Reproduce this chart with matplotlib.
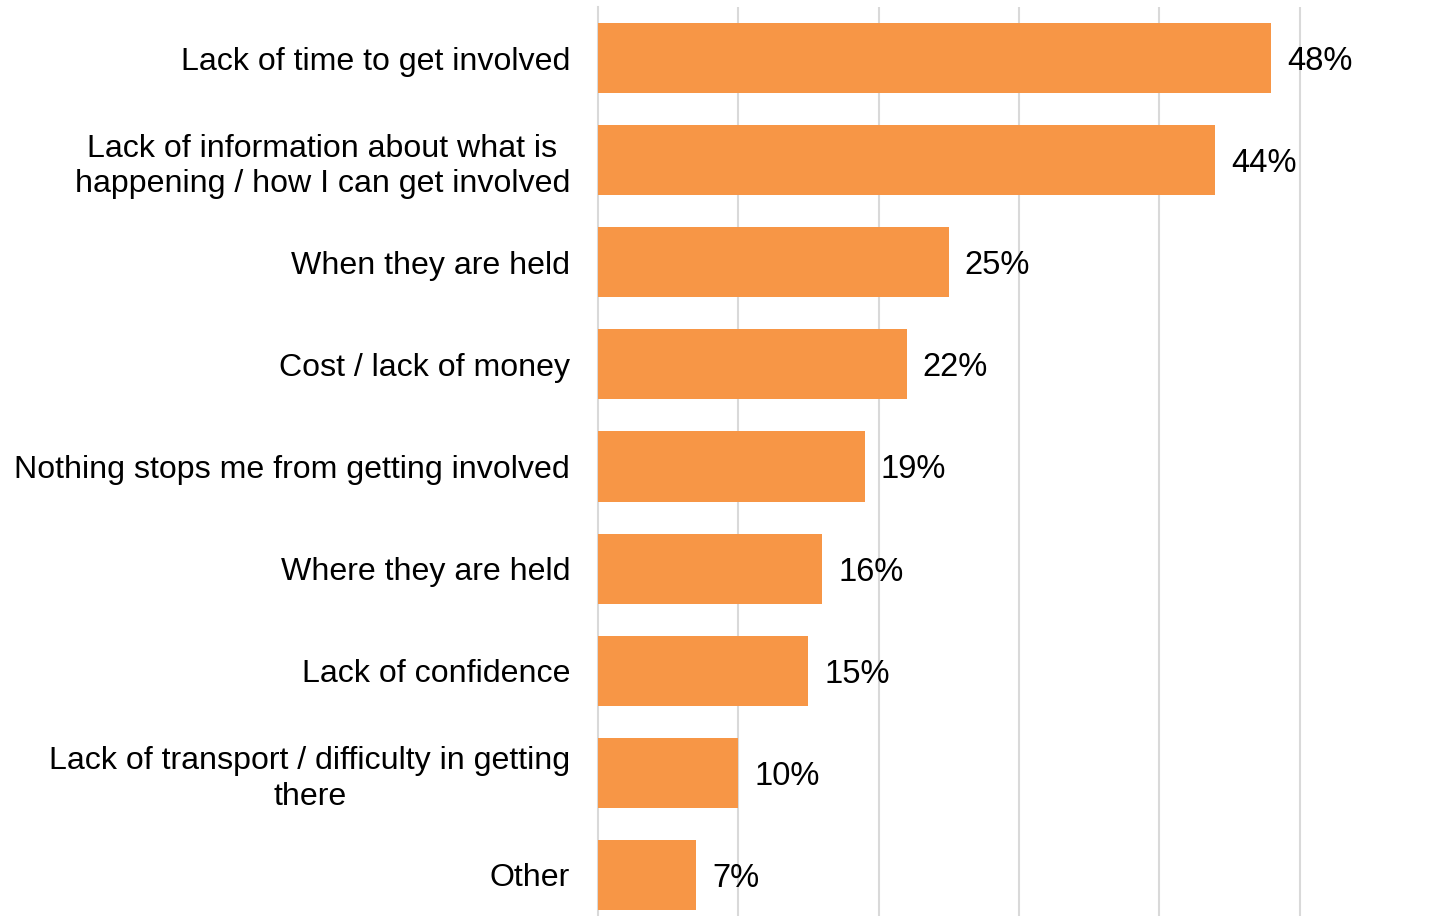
import matplotlib
matplotlib.use("Agg")
import matplotlib.pyplot as plt

categories = [
    "Lack of time to get involved",
    "Lack of information about what is\nhappening / how I can get involved",
    "When they are held",
    "Cost / lack of money",
    "Nothing stops me from getting involved",
    "Where they are held",
    "Lack of confidence",
    "Lack of transport / difficulty in getting\nthere",
    "Other",
]
values = [48, 44, 25, 22, 19, 16, 15, 10, 7]
value_labels = ["48%", "44%", "25%", "22%", "19%", "16%", "15%", "10%", "7%"]

W, H = 1437, 916
fig = plt.figure(figsize=(W / 100, H / 100), dpi=100)
plt.rcParams["font.family"] = ["Liberation Sans", "DejaVu Sans"]

left_px, right_px = 598, 1437
top_px, bottom_px = 7, 926
ax = fig.add_axes([left_px / W, 1 - bottom_px / H,
                   (right_px - left_px) / W, (bottom_px - top_px) / H])

bar_color = "#F79646"
grid_color = "#D9D9D9"

y = list(range(len(categories)))
ax.barh(y, values, height=0.686, color=bar_color, zorder=3)
ax.set_ylim(len(categories) - 0.5, -0.5)
ax.set_xlim(0, (right_px - left_px) / 14.03)

ax.set_xticks([10, 20, 30, 40, 50])
ax.set_xticklabels([])
ax.xaxis.grid(True, color=grid_color, linewidth=1.5, zorder=0)
ax.tick_params(axis="x", length=0)

ax.set_yticks(y)
ax.set_yticklabels(categories, fontsize=23.1, color="black")
for lbl in ax.get_yticklabels():
    lbl.set_multialignment("center")
    lbl.set_linespacing(1.25)
ax.tick_params(axis="y", length=0, pad=20)

for s in ["top", "right", "bottom"]:
    ax.spines[s].set_visible(False)
ax.spines["left"].set_color(grid_color)
ax.spines["left"].set_linewidth(1.5)

for yi, v, txt in zip(y, values, value_labels):
    ax.annotate(txt, xy=(v, yi), xytext=(11.5, 0), textcoords="offset points",
                ha="left", va="center_baseline", fontsize=23.5, color="black",
                annotation_clip=False)

fig.savefig("out.png", dpi=100)
